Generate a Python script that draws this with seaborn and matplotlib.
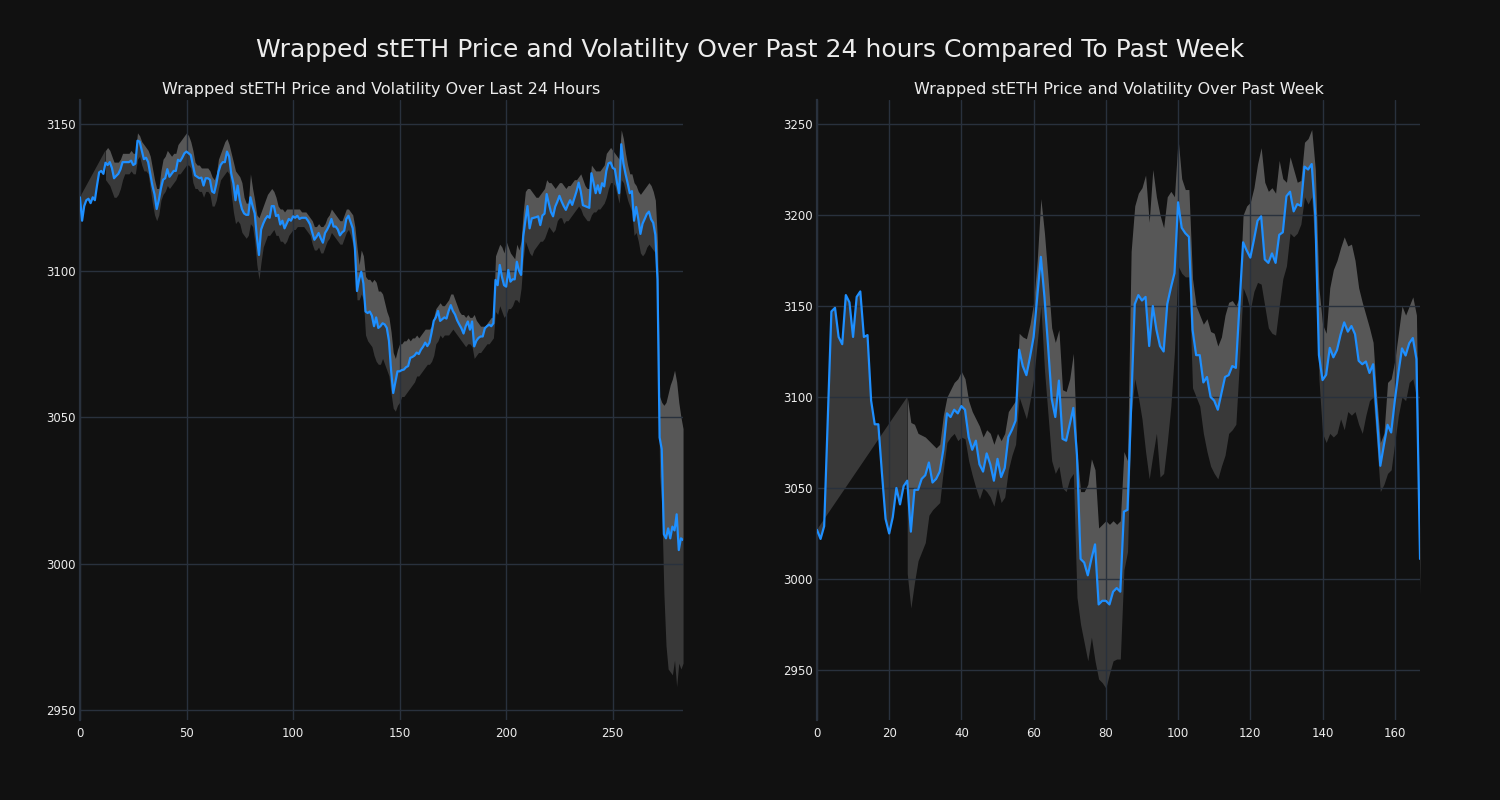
import numpy as np
import matplotlib
matplotlib.use("Agg")
import matplotlib.pyplot as plt
import seaborn as sns

NA = None

# ---------------- data: last 24 hours (5-minute steps) ----------------
day_price = [
    3125, 3117, 3122, 3124, 3124.5, 3123, 3125, 3124, 3129, 3133.5,
    3134, 3133, 3136.8, 3136, 3137, 3135, 3131.5, 3132.3, 3133, 3134.5,
    3137, 3137, 3137, 3137, 3137.5, 3136, 3136.5, 3144.3, 3144, 3141,
    3138, 3138.5, 3137, 3133, 3129, 3126, 3121, 3124, 3128, 3131,
    3131.5, 3134.6, 3132, 3133, 3134, 3134, 3137.8, 3137.3, 3138.5, 3140,
    3140.6, 3140, 3139.4, 3136, 3132.5, 3132, 3131.5, 3131.7, 3129, 3131.5,
    3131.5, 3131, 3127, 3126.5, 3129.6, 3133.7, 3136, 3137, 3137, 3140.6,
    3138.9, 3133, 3129.8, 3124, 3129, 3124, 3121, 3119.5, 3119, 3119,
    3125, 3122, 3119.5, 3111.6, 3105.3, 3114, 3116, 3117.6, 3118.6, 3118,
    3122, 3122, 3118.6, 3119, 3115.7, 3117, 3114.4, 3116, 3117.6, 3117,
    3118.5, 3118, 3118.7, 3117.6, 3118, 3118, 3118, 3117, 3115.7, 3113,
    3110.5, 3111.5, 3112.8, 3111, 3109.5, 3112.8, 3114, 3115.5, 3117.6, 3115,
    3115, 3114, 3112, 3113, 3113.6, 3117.6, 3118.7, 3116.5, 3114.4, 3108,
    3093, 3097, 3099.6, 3095.6, 3086, 3085.5, 3086, 3084.6, 3081, 3084,
    3080.4, 3081, 3082, 3081.6, 3080.4, 3076, 3066, 3058.2, 3062, 3065.6,
    3065.6, 3066, 3066.2, 3067, 3067.4, 3070.2, 3070.5, 3071, 3072, 3071.5,
    3073, 3074, 3075.4, 3074.2, 3075.4, 3078.8, 3082.8, 3084, 3086.2, 3082.8,
    3083.4, 3084, 3083.6, 3086.2, 3088.2, 3086.2, 3085, 3083, 3081.6, 3080.3,
    3078.5, 3081, 3082.6, 3079.8, 3082.6, 3074.1, 3076, 3077, 3077.5, 3077.5,
    3080.3, 3081, 3081.5, 3081, 3082, 3096.8, 3095, 3101.9, 3097.9, 3095,
    3094.5, 3100.2, 3096.2, 3097, 3097, 3103, 3100, 3098.5, 3111.6, 3117,
    3122, 3114.4, 3117.8, 3118, 3118.2, 3118.5, 3115.5, 3118.8, 3119.4, 3126.1,
    3122.9, 3120, 3118.5, 3121.8, 3123.5, 3125.5, 3123.6, 3122, 3120.7, 3122.5,
    3124, 3122.4, 3124.7, 3127, 3130, 3127, 3122.3, 3122, 3121.7, 3121.4,
    3133.2, 3130, 3126.4, 3129.1, 3126.4, 3129.8, 3128.7, 3134, 3136.6, 3136.9,
    3135, 3134.6, 3130, 3126.4, 3143.1, 3136.6, 3133, 3129.8, 3126.4, 3127.1,
    3117, 3121.7, 3117.6, 3112.5, 3116, 3117.6, 3119.3, 3120.1, 3117.5, 3116.3,
    3112.2, 3097, 3043, 3039, 3010, 3008.6, 3012, 3008.6, 3012.6, 3011.3,
    3016.8, 3004.6, 3008.6, 3008,
]
day_upper = [
    NA, NA, NA, NA, NA, NA, NA, NA, NA, NA,
    NA, NA, 3141, 3142, 3141, 3139, 3137, 3137, 3137, 3138,
    3140, 3140, 3140, 3140, 3141, 3140, 3140, 3147, 3146, 3144,
    3143, 3142, 3141, 3139, 3135, 3131, 3128, 3128, 3134, 3138,
    3139, 3141, 3140, 3139, 3140, 3140, 3143, 3144, 3145, 3146,
    3147, 3146, 3144, 3141, 3137, 3136, 3136, 3135, 3135, 3135,
    3135, 3134, 3132, 3131, 3133, 3138, 3140, 3142, 3144, 3145,
    3143, 3140, 3137, 3134, 3133, 3132, 3130, 3125, 3123, 3123,
    3133, 3128, 3124, 3119, 3118, 3120, 3122, 3124, 3126, 3127,
    3128, 3127, 3125, 3122, 3121, 3121, 3120, 3121, 3121, 3121,
    3121, 3121, 3121, 3121, 3120, 3120, 3120, 3119, 3118, 3117,
    3115, 3115, 3116, 3115, 3115, 3116, 3118, 3119, 3121, 3120,
    3119, 3118, 3117, 3117, 3119, 3121, 3121, 3120, 3119, 3115,
    3108, 3102, 3107, 3105, 3098, 3097, 3097, 3096, 3097, 3096,
    3093, 3093, 3092, 3089, 3086, 3084, 3079, 3072, 3070, 3073,
    3075, 3075, 3076, 3076, 3077, 3076, 3077, 3077, 3078, 3077,
    3078, 3079, 3080, 3080, 3080, 3081, 3084, 3087, 3088, 3089,
    3088, 3088, 3089, 3090, 3092, 3092, 3090, 3088, 3086, 3085,
    3085, 3084, 3085, 3084, 3084, 3085, 3083, 3082, 3081, 3081,
    3081, 3082, 3083, 3084, 3084, 3105, 3107, 3109, 3108, 3106,
    3110, 3108, 3106, 3105, 3104, 3109, 3107, 3110, 3120, 3127,
    3128, 3128, 3127, 3126, 3125, 3125, 3126, 3127, 3128, 3131,
    3130, 3130, 3129, 3128, 3129, 3130, 3130, 3129, 3128, 3129,
    3129, 3130, 3131, 3131, 3132, 3133, 3131, 3129, 3128, 3128,
    3136, 3135, 3134, 3134, 3134, 3135, 3136, 3140, 3141, 3142,
    3141, 3140, 3139, 3138, 3148, 3145, 3140, 3136, 3133, 3133,
    3130, 3129, 3127, 3126, 3127, 3128, 3129, 3130, 3129, 3127,
    3124, 3110, 3057, 3055, 3054, 3055, 3058, 3061, 3063, 3066,
    3062, 3055, 3050, 3046,
]
day_lower = [
    NA, NA, NA, NA, NA, NA, NA, NA, NA, NA,
    NA, NA, 3131, 3130, 3129, 3127, 3125, 3125, 3126, 3128,
    3131, 3133, 3133, 3133, 3134, 3133, 3133, 3138, 3139, 3136,
    3134, 3134, 3133, 3128, 3123, 3119, 3117, 3119, 3124, 3126,
    3127, 3129, 3128, 3129, 3130, 3131, 3133, 3133, 3134, 3135,
    3136, 3136, 3135, 3130, 3128, 3128, 3127, 3127, 3125, 3127,
    3127, 3126, 3122, 3122, 3124, 3128, 3131, 3132, 3133, 3134,
    3133, 3126, 3120, 3116, 3117, 3116, 3113, 3112, 3111, 3112,
    3116, 3115, 3110, 3102, 3097, 3103, 3108, 3110, 3112, 3112,
    3113, 3114, 3112, 3112, 3110, 3110, 3109, 3110, 3112, 3113,
    3114, 3114, 3115, 3115, 3115, 3115, 3114, 3113, 3112, 3109,
    3107, 3107, 3108, 3106, 3106, 3108, 3110, 3111, 3113, 3112,
    3111, 3110, 3109, 3109, 3111, 3113, 3114, 3112, 3109, 3104,
    3090, 3090, 3092, 3090, 3078, 3076, 3075, 3074, 3071, 3069,
    3068, 3068, 3070, 3068, 3066, 3064, 3058, 3053, 3052, 3054,
    3055, 3057, 3057, 3058, 3059, 3060, 3061, 3062, 3064, 3064,
    3065, 3066, 3067, 3068, 3068, 3069, 3071, 3075, 3076, 3078,
    3077, 3078, 3078, 3078, 3079, 3080, 3079, 3078, 3077, 3076,
    3075, 3074, 3075, 3075, 3074, 3070, 3071, 3072, 3072, 3073,
    3074, 3075, 3075, 3076, 3077, 3086, 3085, 3088, 3086, 3084,
    3085, 3087, 3087, 3088, 3090, 3090, 3089, 3094, 3104, 3110,
    3108, 3106, 3105, 3107, 3108, 3109, 3110, 3110, 3111, 3113,
    3115, 3114, 3113, 3114, 3117, 3118, 3118, 3116, 3117, 3117,
    3118, 3119, 3120, 3121, 3122, 3121, 3119, 3118, 3117, 3117,
    3119, 3120, 3120, 3121, 3121, 3122, 3123, 3125, 3128, 3130,
    3130, 3129, 3126, 3123, 3131, 3130, 3127, 3124, 3122, 3120,
    3112, 3113, 3110, 3106, 3105, 3106, 3108, 3109, 3108, 3107,
    3106, 3092, 3030, 3020, 2990, 2972, 2964, 2963, 2962, 2967,
    2958, 2966, 2964, 2966,
]

# ---------------- data: past week (hourly steps) ----------------
week_price = [
    3027, 3022, 3029, 3088, 3147, 3149, 3133, 3129, 3156, 3152,
    3133, 3155, 3158, 3133, 3134, 3098, 3085, 3085, 3058, 3033,
    3025, 3034, 3050, 3041, 3051, 3054, 3026, 3049, 3049, 3055,
    3057, 3064, 3053, 3055, 3059, 3071, 3091, 3089, 3093, 3091,
    3095, 3093, 3078, 3071, 3076, 3063, 3059, 3069, 3063, 3054,
    3066, 3056, 3061, 3078, 3082, 3087, 3126, 3117, 3112, 3122,
    3133, 3155, 3177, 3155, 3128, 3099, 3089, 3109, 3077, 3076,
    3085, 3094, 3068, 3011, 3009, 3002, 3011, 3019, 2986, 2988,
    2988, 2986, 2993, 2995, 2993, 3037, 3038, 3095, 3151, 3156,
    3153, 3155, 3128, 3150, 3137, 3128, 3125, 3151, 3160, 3168,
    3207, 3193, 3190, 3188, 3137, 3123, 3123, 3108, 3111, 3100,
    3098, 3093, 3102, 3111, 3112, 3117, 3116, 3150, 3185, 3180.5,
    3176.6, 3186.3, 3196.8, 3199.3, 3175.6, 3173.7, 3178.9, 3173.7, 3189.1, 3190.5,
    3210.3, 3212.8, 3202, 3206, 3205, 3226.6, 3225, 3228, 3199.7, 3123,
    3109.3, 3112.2, 3127, 3121.8, 3125.8, 3134.3, 3141, 3135.9, 3139, 3134.5,
    3119.9, 3118, 3119.5, 3113.2, 3118, 3090, 3062.2, 3073.7, 3084.7, 3080.5,
    3097.8, 3113.2, 3126.7, 3122.8, 3129.5, 3132.4, 3120.9, 3011,
]
week_upper = [
    NA, NA, NA, NA, NA, NA, NA, NA, NA, NA,
    NA, NA, NA, NA, NA, NA, NA, NA, NA, NA,
    NA, NA, NA, NA, NA, 3100, 3086, 3085, 3080, 3079,
    3078, 3076, 3074, 3072, 3074, 3090, 3100, 3104, 3108, 3110,
    3114, 3110, 3098, 3092, 3088, 3084, 3078, 3082, 3080, 3074,
    3080, 3076, 3080, 3092, 3095, 3098, 3135, 3133, 3132, 3140,
    3152, 3175, 3209, 3190, 3165, 3138, 3130, 3137, 3104, 3103,
    3110, 3124, 3070, 3048, 3048, 3052, 3066, 3060, 3028, 3030,
    3032, 3030, 3032, 3030, 3032, 3070, 3065, 3180, 3205, 3212,
    3215, 3222, 3196, 3225, 3210, 3200, 3193, 3210, 3213, 3210,
    3242, 3220, 3214, 3214, 3165, 3150, 3145, 3140, 3143, 3136,
    3135, 3128, 3133, 3145, 3152, 3153, 3150, 3155, 3200, 3205,
    3207, 3215, 3228, 3237, 3218, 3213, 3215, 3212, 3230, 3220,
    3218, 3232, 3225, 3218, 3219, 3240, 3242, 3247, 3225, 3160,
    3140, 3135, 3160, 3170, 3175, 3182, 3188, 3183, 3184, 3175,
    3160, 3152, 3145, 3138, 3130, 3100, 3075, 3080, 3108, 3110,
    3120, 3135, 3150, 3145, 3150, 3155, 3145, 3012,
]
week_lower = [
    NA, NA, NA, NA, NA, NA, NA, NA, NA, NA,
    NA, NA, NA, NA, NA, NA, NA, NA, NA, NA,
    NA, NA, NA, NA, NA, 3003, 2984, 2998, 3010, 3015,
    3020, 3035, 3038, 3040, 3042, 3060, 3075, 3078, 3080, 3076,
    3078, 3077, 3065, 3057, 3050, 3044, 3050, 3048, 3045, 3040,
    3050, 3042, 3045, 3060, 3068, 3074, 3100, 3094, 3088, 3098,
    3110, 3130, 3150, 3115, 3090, 3065, 3058, 3062, 3050, 3048,
    3055, 3058, 2990, 2975, 2965, 2955, 2968, 2955, 2945, 2943,
    2940, 2948, 2955, 2956, 2956, 3005, 3015, 3090, 3110, 3100,
    3088, 3070, 3055, 3068, 3080, 3056, 3058, 3075, 3095, 3125,
    3172, 3168, 3166, 3166, 3105, 3100, 3095, 3080, 3070, 3062,
    3058, 3055, 3062, 3068, 3080, 3082, 3085, 3120, 3160, 3155,
    3148, 3158, 3163, 3162, 3150, 3138, 3135, 3134, 3150, 3165,
    3172, 3190, 3188, 3190, 3195, 3210, 3206, 3210, 3180, 3110,
    3080, 3075, 3080, 3078, 3080, 3088, 3082, 3092, 3090, 3092,
    3085, 3080, 3090, 3098, 3100, 3075, 3048, 3052, 3058, 3060,
    3075, 3090, 3100, 3098, 3108, 3110, 3100, 2991,
]

# ---------------- texts and ticks ----------------
suptitle_text = "Wrapped stETH Price and Volatility Over Past 24 hours Compared To Past Week"
day_title = "Wrapped stETH Price and Volatility Over Last 24 Hours"
week_title = "Wrapped stETH Price and Volatility Over Past Week"
day_xticks = [0, 50, 100, 150, 200, 250]
day_yticks = [2950, 3000, 3050, 3100, 3150]
week_xticks = [0, 20, 40, 60, 80, 100, 120, 140, 160]
week_yticks = [2950, 3000, 3050, 3100, 3150, 3200, 3250]

# ---------------- style ----------------
BG = "#111111"
GRID = "#29313d"
TEXT = "#ececec"
BLUE = "#1e8fff"
DARK = "#393939"
LIGHT = "#575757"

sns.set_theme(style="dark", rc={
    "figure.facecolor": BG,
    "axes.facecolor": BG,
    "axes.edgecolor": GRID,
    "axes.grid": True,
    "grid.color": GRID,
    "grid.linewidth": 1.0,
    "axes.axisbelow": "line",
    "text.color": TEXT,
    "xtick.color": TEXT,
    "ytick.color": TEXT,
})
plt.rcParams["font.family"] = ["DejaVu Sans"]


def to_arr(vals):
    return np.array([np.nan if v is None else v for v in vals], dtype=float)


def draw(ax, price, upper, lower, title, xticks, yticks, ylim):
    p = np.array(price, dtype=float)
    u = to_arr(upper)
    l = to_arr(lower)
    x = np.arange(len(p))
    w = int(np.argmax(~np.isnan(u)))
    # start-up wedge of the rolling band
    ax.fill(np.r_[x[:w + 1], x[w]], np.r_[p[:w + 1], u[w]],
            color=DARK, lw=0, zorder=1)
    ax.fill_between(x, l, p, color=DARK, lw=0, zorder=1)
    ax.fill_between(x, p, u, color=LIGHT, lw=0, zorder=1)
    sns.lineplot(x=x, y=p, ax=ax, color=BLUE, linewidth=1.6, zorder=3)
    ax.set_xlim(0, len(p) - 1)
    ax.set_ylim(*ylim)
    ax.set_xticks(xticks)
    ax.set_yticks(yticks)
    ax.grid(True, color=GRID, linewidth=1.0)
    for s in ("top", "right", "bottom"):
        ax.spines[s].set_visible(False)
    ax.spines["left"].set_color(GRID)
    ax.spines["left"].set_linewidth(1.6)
    ax.tick_params(axis="both", length=0, labelsize=8.5, labelcolor=TEXT)
    ax.tick_params(axis="y", pad=3)
    ax.tick_params(axis="x", pad=5)
    ax.set_xlabel("")
    ax.set_ylabel("")
    ax.set_title(title, color=TEXT, fontsize=11.5, pad=4.5)


fig, axes = plt.subplots(1, 2, figsize=(15, 8), dpi=100)
fig.patch.set_facecolor(BG)
fig.subplots_adjust(left=0.0533, right=0.9467, bottom=0.1, top=0.875, wspace=0.222)

draw(axes[0], day_price, day_upper, day_lower, day_title,
     day_xticks, day_yticks, (2946.6, 3158.2))
draw(axes[1], week_price, week_upper, week_lower, week_title,
     week_xticks, week_yticks, (2922.5, 3263.2))

fig.suptitle(suptitle_text, color=TEXT, fontsize=18, y=0.9375, va="center")

fig.savefig("out.png", dpi=100, facecolor=BG)
